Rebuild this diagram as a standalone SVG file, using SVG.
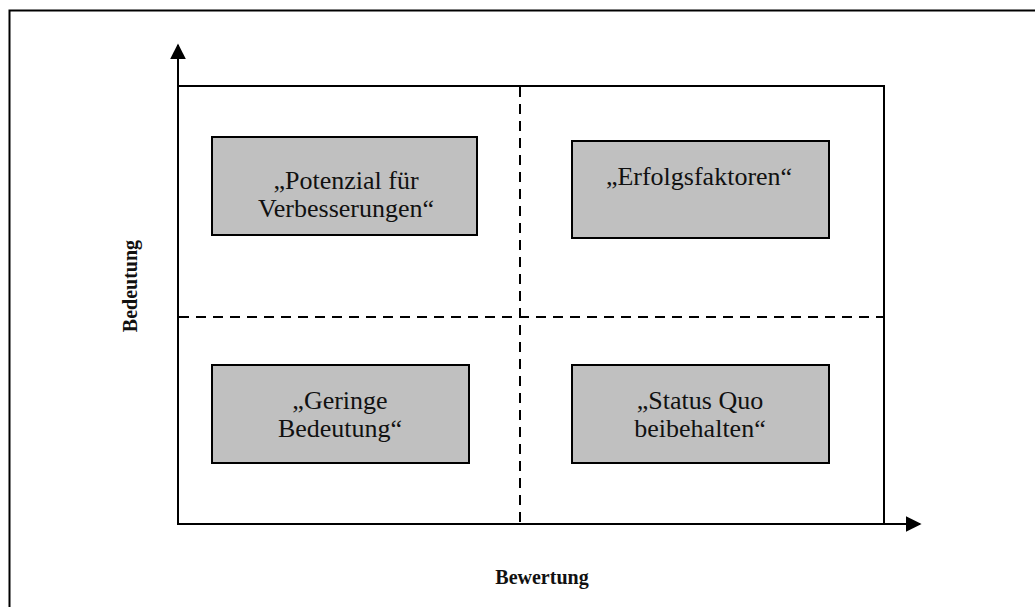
<svg xmlns="http://www.w3.org/2000/svg" width="1035" height="607" viewBox="0 0 1035 607">
<defs>
<style>
.box{fill:#c0c0c0;stroke:#000;stroke-width:2}
.lbl{font-family:"Liberation Serif",serif;font-size:26px;fill:#111;text-anchor:middle}
.ax{font-family:"Liberation Serif",serif;font-size:20px;font-weight:bold;fill:#111;text-anchor:middle}
.dash{stroke:#000;stroke-width:2;stroke-dasharray:10,7;fill:none}
</style>
<marker id="arr" viewBox="0 0 10 10" refX="9" refY="5" markerWidth="16" markerHeight="16" markerUnits="userSpaceOnUse" orient="auto">
<path d="M0,0 L10,5 L0,10 Z" fill="#000"/>
</marker>
</defs>
<rect width="1035" height="607" fill="#fff"/>
<rect x="9.5" y="10.5" width="1030" height="600" fill="none" stroke="#000" stroke-width="2"/>
<g id="connectors">
<line x1="178" y1="525" x2="178" y2="45" stroke="#000" stroke-width="2" marker-end="url(#arr)"/>
<line x1="177" y1="524" x2="920" y2="524" stroke="#000" stroke-width="2" marker-end="url(#arr)"/>
<polyline points="178,86 884,86 884,524" fill="none" stroke="#000" stroke-width="2"/>
<line class="dash" x1="520" y1="87" x2="520" y2="523"/>
<line class="dash" x1="179" y1="317" x2="883" y2="317"/>
</g>
<g id="node-potenzial">
<rect class="box" x="212" y="137" width="265" height="98"/>
<text class="lbl" x="346" y="189">„Potenzial für</text>
<text class="lbl" x="346" y="217">Verbesserungen“</text>
</g>
<g id="node-erfolgsfaktoren">
<rect class="box" x="572" y="141" width="257" height="97"/>
<text class="lbl" x="699" y="185">„Erfolgsfaktoren“</text>
</g>
<g id="node-geringe">
<rect class="box" x="212" y="365" width="257" height="98"/>
<text class="lbl" x="340" y="409">„Geringe</text>
<text class="lbl" x="340" y="437">Bedeutung“</text>
</g>
<g id="node-status">
<rect class="box" x="572" y="365" width="257" height="98"/>
<text class="lbl" x="700" y="409">„Status Quo</text>
<text class="lbl" x="700" y="437">beibehalten“</text>
</g>
<text class="ax" transform="translate(137,286) rotate(-90)">Bedeutung</text>
<text class="ax" x="542" y="584">Bewertung</text>
</svg>
